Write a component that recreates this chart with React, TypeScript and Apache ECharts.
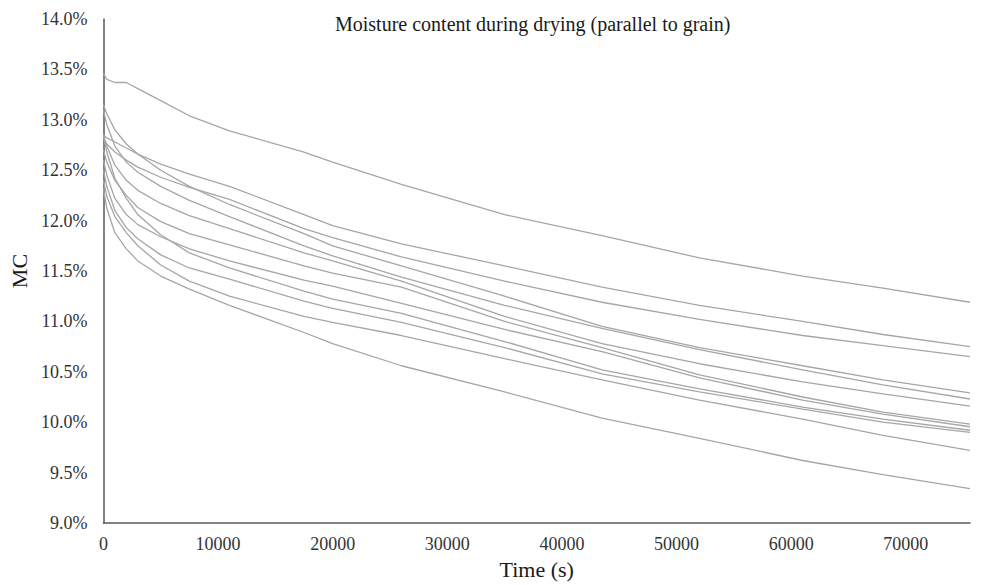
import React, { useEffect, useRef } from "react";
import * as echarts from "echarts";

const TIME = [0, 300, 1000, 2000, 3000, 5000, 7500, 11000, 17500, 20000, 26000, 35000, 43500, 52000, 61000, 68000, 75600];

const S1 = [13.46, 13.40, 13.37, 13.37, 13.31, 13.19, 13.04, 12.89, 12.68, 12.58, 12.36, 12.06, 11.85, 11.63, 11.45, 11.33, 11.19];
const S2 = [12.85, 12.82, 12.78, 12.72, 12.66, 12.56, 12.46, 12.34, 12.06, 11.95, 11.77, 11.55, 11.34, 11.16, 11.00, 10.87, 10.75];
const S3 = [12.82, 12.76, 12.68, 12.60, 12.53, 12.43, 12.33, 12.21, 11.92, 11.83, 11.64, 11.40, 11.19, 11.02, 10.86, 10.76, 10.65];
const S4 = [13.15, 13.06, 12.90, 12.76, 12.66, 12.50, 12.34, 12.16, 11.87, 11.75, 11.55, 11.25, 10.95, 10.74, 10.56, 10.42, 10.29];
const S5 = [13.10, 12.95, 12.74, 12.58, 12.48, 12.34, 12.20, 12.04, 11.75, 11.65, 11.44, 11.16, 10.93, 10.72, 10.52, 10.37, 10.23];
const S6 = [12.85, 12.74, 12.55, 12.40, 12.30, 12.17, 12.05, 11.92, 11.68, 11.60, 11.40, 11.05, 10.78, 10.58, 10.40, 10.28, 10.16];
const S7 = [12.70, 12.58, 12.40, 12.25, 12.13, 11.99, 11.87, 11.76, 11.55, 11.48, 11.34, 11.00, 10.74, 10.47, 10.25, 10.10, 9.98];
const S8 = [12.60, 12.45, 12.22, 12.06, 11.96, 11.84, 11.72, 11.60, 11.41, 11.35, 11.18, 10.92, 10.70, 10.44, 10.22, 10.08, 9.955];
const S9 = [12.85, 12.68, 12.42, 12.22, 12.06, 11.86, 11.68, 11.53, 11.30, 11.22, 11.08, 10.80, 10.52, 10.33, 10.15, 10.03, 9.92];
const S10 = [12.50, 12.34, 12.10, 11.93, 11.82, 11.66, 11.53, 11.42, 11.20, 11.13, 10.99, 10.74, 10.48, 10.30, 10.13, 10.00, 9.90];
const S11 = [12.40, 12.24, 12.04, 11.88, 11.75, 11.56, 11.40, 11.25, 11.05, 10.99, 10.86, 10.63, 10.42, 10.22, 10.03, 9.87, 9.72];
const S12 = [12.32, 12.12, 11.88, 11.72, 11.60, 11.45, 11.32, 11.16, 10.89, 10.78, 10.56, 10.30, 10.04, 9.84, 9.62, 9.48, 9.34];

const ALL_SERIES = [S1, S2, S3, S4, S5, S6, S7, S8, S9, S10, S11, S12];

const TITLE = "Moisture content during drying (parallel to grain)";
const X_NAME = "Time (s)";
const Y_NAME = "MC";

const FONT = "Liberation Serif";

export default function App() {
  const ref = useRef<HTMLDivElement>(null);

  useEffect(() => {
    if (!ref.current) return;
    const chart = echarts.init(ref.current, undefined, { renderer: "svg" });
    const series = ALL_SERIES.map((vals, i) => ({
      name: "Specimen " + (i + 1),
      type: "line",
      data: TIME.map((t, j) => [t, vals[j]]),
      showSymbol: false,
      smooth: false,
      lineStyle: { color: "#a6a6a6", width: 1.3 },
      itemStyle: { color: "#a6a6a6" },
    }));
    const labelStyle = {
      fontFamily: FONT,
      fontSize: 18,
      fontWeight: "normal",
      color: "#333333",
    };
    chart.setOption({
      animation: false,
      backgroundColor: "#ffffff",
      textStyle: { fontFamily: FONT },
      title: {
        text: TITLE,
        left: 330,
        top: 9,
        textStyle: { fontFamily: FONT, fontSize: 20, fontWeight: "normal", color: "#1a1a1a" },
      },
      grid: { left: 100, right: 15, top: 19, bottom: 60, containLabel: false },
      xAxis: {
        type: "value",
        min: 0,
        max: 75600,
        interval: 10000,
        name: X_NAME,
        nameLocation: "middle",
        nameGap: 35,
        nameTextStyle: { fontFamily: FONT, fontSize: 22, fontWeight: "normal", color: "#1a1a1a" },
        axisLine: { show: true, lineStyle: { color: "#595959", width: 1.5 } },
        axisTick: { show: false },
        splitLine: { show: false },
        axisLabel: {
          ...labelStyle,
          margin: 12,
          showMaxLabel: false,
          formatter: (v: number) => String(Math.round(v)),
        },
      },
      yAxis: {
        type: "value",
        min: 9,
        max: 14,
        interval: 0.5,
        name: Y_NAME,
        nameLocation: "middle",
        nameGap: 72,
        nameRotate: 90,
        nameTextStyle: { fontFamily: FONT, fontSize: 22, fontWeight: "normal", color: "#1a1a1a" },
        axisLine: { show: true, lineStyle: { color: "#595959", width: 1.5 } },
        axisTick: { show: false },
        splitLine: { show: false },
        axisLabel: {
          ...labelStyle,
          margin: 16,
          formatter: (v: number) => v.toFixed(1) + "%",
        },
      },
      series,
    });
    return () => chart.dispose();
  }, []);

  return (
    <div
      ref={ref}
      style={{ position: "fixed", left: 0, top: 0, width: 985, height: 585, background: "#fff" }}
    />
  );
}
